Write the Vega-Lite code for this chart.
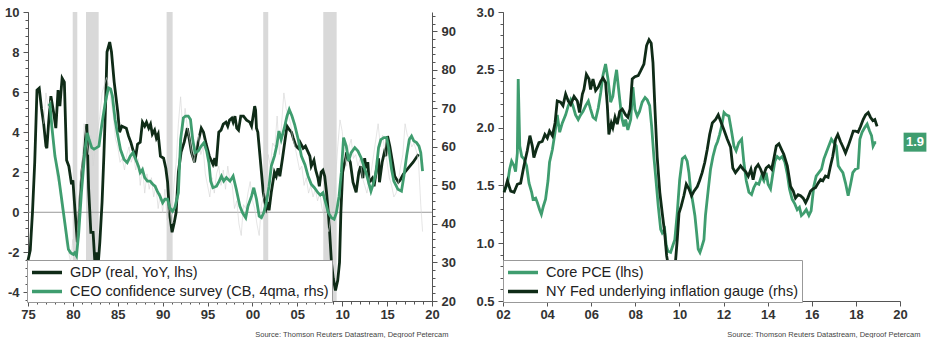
{
  "$schema": "https://vega.github.io/schema/vega-lite/v6.json",
  "background": "white",
  "padding": {"left": 4, "top": 6, "right": 0, "bottom": 0},
  "spacing": 71,
  "bounds": "flush",
  "resolve": {"scale": {"color": "independent"}, "legend": {"color": "independent"}},
  "config": {
    "font": "Liberation Sans",
    "view": {"stroke": null},
    "axis": {
      "grid": false,
      "domainColor": "#555",
      "tickColor": "#555",
      "labelColor": "#333",
      "labelFont": "Liberation Sans",
      "labelFontSize": 13,
      "labelFontWeight": "bold",
      "labelOverlap": false,
      "labelBound": false,
      "labelFlush": false,
      "titleFont": "Liberation Sans"
    },
    "legend": {
      "orient": "none",
      "title": null,
      "fillColor": "white",
      "strokeColor": "#999",
      "padding": 3,
      "rowPadding": 2,
      "symbolType": "M-1,0H3",
      "symbolSize": 225,
      "symbolStrokeWidth": 3.5,
      "labelFont": "Liberation Sans",
      "labelFontSize": 14.5,
      "labelColor": "#222",
      "labelOffset": 21,
      "labelLimit": 0
    }
  },
  "datasets": {
    "recessions": [
      {"start": 1979.98, "end": 1980.49},
      {"start": 1981.46, "end": 1982.87},
      {"start": 1990.44, "end": 1991.11},
      {"start": 2001.2, "end": 2001.76},
      {"start": 2007.89, "end": 2009.38}
    ],
    "zeroline": [{"zero": 0}],
    "gdp": [
      {"year": 1975.0, "value": -2.4}, {"year": 1975.25, "value": -1.9}, {"year": 1975.5, "value": 0.0}, {"year": 1975.75, "value": 2.5},
      {"year": 1976.0, "value": 6.1}, {"year": 1976.25, "value": 6.2}, {"year": 1976.5, "value": 5.2}, {"year": 1976.75, "value": 4.4},
      {"year": 1977.0, "value": 3.3}, {"year": 1977.1, "value": 3.2}, {"year": 1977.3, "value": 4.5}, {"year": 1977.55, "value": 5.8},
      {"year": 1977.85, "value": 5.0}, {"year": 1978.1, "value": 4.2}, {"year": 1978.35, "value": 6.1}, {"year": 1978.55, "value": 5.3},
      {"year": 1978.8, "value": 6.7}, {"year": 1979.05, "value": 6.5}, {"year": 1979.3, "value": 2.6}, {"year": 1979.55, "value": 2.3},
      {"year": 1979.85, "value": 1.4}, {"year": 1980.0, "value": 1.6}, {"year": 1980.25, "value": 0.0}, {"year": 1980.5, "value": -1.5},
      {"year": 1980.75, "value": 0.3}, {"year": 1981.0, "value": 2.0}, {"year": 1981.25, "value": 2.9}, {"year": 1981.55, "value": 4.4},
      {"year": 1981.75, "value": 1.2}, {"year": 1982.0, "value": -1.0}, {"year": 1982.25, "value": -1.0}, {"year": 1982.45, "value": -2.5},
      {"year": 1982.6, "value": -2.0}, {"year": 1982.8, "value": -2.7}, {"year": 1983.0, "value": -1.5}, {"year": 1983.25, "value": 0.5},
      {"year": 1983.45, "value": 2.8}, {"year": 1983.65, "value": 5.5}, {"year": 1983.8, "value": 8.0}, {"year": 1984.1, "value": 8.5},
      {"year": 1984.3, "value": 8.0}, {"year": 1984.6, "value": 6.5}, {"year": 1985.0, "value": 5.0}, {"year": 1985.2, "value": 4.0},
      {"year": 1985.45, "value": 4.3}, {"year": 1985.95, "value": 4.2}, {"year": 1986.2, "value": 3.8}, {"year": 1986.45, "value": 3.5},
      {"year": 1986.7, "value": 3.1}, {"year": 1987.0, "value": 2.8}, {"year": 1987.2, "value": 3.4}, {"year": 1987.5, "value": 3.5},
      {"year": 1987.75, "value": 4.5}, {"year": 1988.0, "value": 4.3}, {"year": 1988.2, "value": 4.5}, {"year": 1988.45, "value": 4.2},
      {"year": 1988.65, "value": 4.4}, {"year": 1988.85, "value": 3.9}, {"year": 1989.1, "value": 4.1}, {"year": 1989.3, "value": 3.7},
      {"year": 1989.5, "value": 3.9}, {"year": 1989.75, "value": 2.8}, {"year": 1990.1, "value": 2.7}, {"year": 1990.35, "value": 2.2},
      {"year": 1990.55, "value": 1.5}, {"year": 1990.75, "value": 0.0}, {"year": 1991.05, "value": -1.0}, {"year": 1991.3, "value": -0.5},
      {"year": 1991.5, "value": 0.0}, {"year": 1991.75, "value": 2.0}, {"year": 1992.05, "value": 3.0}, {"year": 1992.4, "value": 3.5},
      {"year": 1992.75, "value": 4.2}, {"year": 1992.95, "value": 3.7}, {"year": 1993.2, "value": 3.0}, {"year": 1993.55, "value": 2.5},
      {"year": 1993.95, "value": 3.5}, {"year": 1994.3, "value": 4.2}, {"year": 1994.55, "value": 4.0}, {"year": 1994.85, "value": 3.4},
      {"year": 1995.2, "value": 2.8}, {"year": 1995.6, "value": 2.4}, {"year": 1995.8, "value": 2.7}, {"year": 1995.95, "value": 2.3},
      {"year": 1996.25, "value": 4.0}, {"year": 1996.5, "value": 4.1}, {"year": 1996.75, "value": 4.4}, {"year": 1997.05, "value": 4.5},
      {"year": 1997.25, "value": 4.3}, {"year": 1997.45, "value": 4.6}, {"year": 1997.7, "value": 4.7}, {"year": 1997.85, "value": 4.5},
      {"year": 1998.05, "value": 4.8}, {"year": 1998.25, "value": 4.2}, {"year": 1998.45, "value": 4.1}, {"year": 1998.7, "value": 4.8},
      {"year": 1999.0, "value": 4.8}, {"year": 1999.35, "value": 4.6}, {"year": 1999.7, "value": 4.5}, {"year": 1999.9, "value": 4.3},
      {"year": 2000.25, "value": 5.3}, {"year": 2000.35, "value": 5.1}, {"year": 2000.45, "value": 4.2}, {"year": 2000.6, "value": 4.0},
      {"year": 2000.8, "value": 3.0}, {"year": 2001.0, "value": 2.0}, {"year": 2001.2, "value": 1.0}, {"year": 2001.4, "value": 0.5},
      {"year": 2001.55, "value": 0.2}, {"year": 2001.75, "value": 0.5}, {"year": 2001.85, "value": 0.1}, {"year": 2002.1, "value": 1.0},
      {"year": 2002.45, "value": 2.0}, {"year": 2002.65, "value": 1.8}, {"year": 2002.85, "value": 2.2}, {"year": 2003.05, "value": 1.8},
      {"year": 2003.35, "value": 2.7}, {"year": 2003.6, "value": 3.5}, {"year": 2003.85, "value": 4.3}, {"year": 2004.15, "value": 4.1},
      {"year": 2004.35, "value": 4.0}, {"year": 2004.55, "value": 3.7}, {"year": 2004.85, "value": 3.3}, {"year": 2005.1, "value": 3.2},
      {"year": 2005.3, "value": 3.5}, {"year": 2005.65, "value": 3.2}, {"year": 2005.9, "value": 3.3}, {"year": 2006.2, "value": 3.0},
      {"year": 2006.4, "value": 2.8}, {"year": 2006.55, "value": 2.3}, {"year": 2006.85, "value": 2.6}, {"year": 2007.05, "value": 2.1},
      {"year": 2007.3, "value": 1.7}, {"year": 2007.45, "value": 1.3}, {"year": 2007.65, "value": 2.0}, {"year": 2007.85, "value": 2.1},
      {"year": 2008.05, "value": 1.8}, {"year": 2008.25, "value": 1.0}, {"year": 2008.45, "value": 0.0}, {"year": 2008.6, "value": -1.0},
      {"year": 2008.8, "value": -2.5}, {"year": 2009.0, "value": -3.3}, {"year": 2009.25, "value": -3.9}, {"year": 2009.5, "value": -3.4},
      {"year": 2009.7, "value": -2.5}, {"year": 2009.85, "value": 0.0}, {"year": 2010.05, "value": 2.0}, {"year": 2010.5, "value": 3.0},
      {"year": 2010.7, "value": 2.7}, {"year": 2010.9, "value": 2.5}, {"year": 2011.2, "value": 1.5}, {"year": 2011.55, "value": 1.0},
      {"year": 2011.85, "value": 2.0}, {"year": 2012.05, "value": 2.3}, {"year": 2012.3, "value": 1.7}, {"year": 2012.5, "value": 2.7},
      {"year": 2012.65, "value": 2.2}, {"year": 2012.85, "value": 2.5}, {"year": 2013.0, "value": 1.5}, {"year": 2013.35, "value": 1.7},
      {"year": 2013.55, "value": 1.3}, {"year": 2013.8, "value": 2.1}, {"year": 2014.05, "value": 2.7}, {"year": 2014.15, "value": 1.5},
      {"year": 2014.45, "value": 2.5}, {"year": 2014.7, "value": 3.0}, {"year": 2014.85, "value": 2.8}, {"year": 2015.05, "value": 3.8},
      {"year": 2015.3, "value": 3.3}, {"year": 2015.6, "value": 2.5}, {"year": 2015.85, "value": 1.8}, {"year": 2016.25, "value": 1.5},
      {"year": 2016.45, "value": 1.6}, {"year": 2016.8, "value": 1.9}, {"year": 2017.35, "value": 2.2}, {"year": 2017.9, "value": 2.5},
      {"year": 2018.5, "value": 2.9}
    ],
    "ceo": [
      {"year": 1977.3, "value": 70.6}, {"year": 1977.45, "value": 71.0}, {"year": 1977.65, "value": 65.4}, {"year": 1978.0, "value": 57.6},
      {"year": 1978.4, "value": 52.4}, {"year": 1978.75, "value": 46.4}, {"year": 1979.1, "value": 40.3}, {"year": 1979.5, "value": 33.4},
      {"year": 1979.75, "value": 32.5}, {"year": 1980.05, "value": 32.1}, {"year": 1980.2, "value": 32.5}, {"year": 1980.4, "value": 31.7},
      {"year": 1980.65, "value": 37.7}, {"year": 1980.95, "value": 48.1}, {"year": 1981.35, "value": 59.3}, {"year": 1981.6, "value": 63.6},
      {"year": 1981.8, "value": 61.9}, {"year": 1982.1, "value": 59.8}, {"year": 1982.35, "value": 59.4}, {"year": 1982.65, "value": 59.8},
      {"year": 1982.9, "value": 60.2}, {"year": 1983.2, "value": 65.4}, {"year": 1983.6, "value": 71.4}, {"year": 1983.95, "value": 75.3},
      {"year": 1984.2, "value": 75.0}, {"year": 1984.4, "value": 73.2}, {"year": 1984.7, "value": 67.1}, {"year": 1984.95, "value": 63.6},
      {"year": 1985.3, "value": 59.3}, {"year": 1985.7, "value": 56.7}, {"year": 1986.05, "value": 55.9}, {"year": 1986.4, "value": 57.6},
      {"year": 1986.7, "value": 58.5}, {"year": 1987.0, "value": 56.7}, {"year": 1987.3, "value": 55.0}, {"year": 1987.5, "value": 53.3},
      {"year": 1987.75, "value": 54.1}, {"year": 1988.0, "value": 52.0}, {"year": 1988.3, "value": 51.1}, {"year": 1988.6, "value": 51.1},
      {"year": 1988.9, "value": 50.3}, {"year": 1989.15, "value": 49.8}, {"year": 1989.4, "value": 48.5}, {"year": 1989.7, "value": 47.2},
      {"year": 1990.0, "value": 45.5}, {"year": 1990.25, "value": 46.4}, {"year": 1990.55, "value": 46.4}, {"year": 1990.8, "value": 44.2},
      {"year": 1991.1, "value": 43.3}, {"year": 1991.35, "value": 44.2}, {"year": 1991.75, "value": 48.1}, {"year": 1992.0, "value": 61.9},
      {"year": 1992.3, "value": 67.5}, {"year": 1992.55, "value": 68.0}, {"year": 1992.85, "value": 68.0}, {"year": 1993.1, "value": 67.1},
      {"year": 1993.35, "value": 61.9}, {"year": 1993.6, "value": 58.5}, {"year": 1993.95, "value": 58.9}, {"year": 1994.3, "value": 60.2},
      {"year": 1994.6, "value": 61.1}, {"year": 1994.9, "value": 58.9}, {"year": 1995.15, "value": 55.9}, {"year": 1995.35, "value": 51.1},
      {"year": 1995.6, "value": 49.4}, {"year": 1996.0, "value": 49.8}, {"year": 1996.3, "value": 51.1}, {"year": 1996.55, "value": 52.4},
      {"year": 1996.8, "value": 51.1}, {"year": 1997.1, "value": 52.0}, {"year": 1997.5, "value": 51.1}, {"year": 1997.85, "value": 52.4},
      {"year": 1998.2, "value": 49.0}, {"year": 1998.6, "value": 44.6}, {"year": 1998.9, "value": 42.9}, {"year": 1999.25, "value": 41.6},
      {"year": 1999.5, "value": 44.6}, {"year": 1999.9, "value": 47.2}, {"year": 2000.15, "value": 49.4}, {"year": 2000.45, "value": 46.4},
      {"year": 2000.75, "value": 42.0}, {"year": 2001.0, "value": 41.6}, {"year": 2001.25, "value": 42.9}, {"year": 2001.55, "value": 45.5},
      {"year": 2001.85, "value": 49.8}, {"year": 2002.1, "value": 55.0}, {"year": 2002.45, "value": 57.6}, {"year": 2002.7, "value": 60.2},
      {"year": 2002.95, "value": 64.1}, {"year": 2003.2, "value": 61.9}, {"year": 2003.55, "value": 64.9}, {"year": 2003.85, "value": 68.0},
      {"year": 2004.1, "value": 69.7}, {"year": 2004.4, "value": 68.0}, {"year": 2004.7, "value": 65.8}, {"year": 2005.1, "value": 61.9},
      {"year": 2005.45, "value": 57.6}, {"year": 2005.85, "value": 55.4}, {"year": 2006.2, "value": 52.4}, {"year": 2006.55, "value": 50.3},
      {"year": 2006.9, "value": 49.4}, {"year": 2007.3, "value": 48.1}, {"year": 2007.55, "value": 47.5}, {"year": 2007.85, "value": 48.1},
      {"year": 2008.15, "value": 45.5}, {"year": 2008.45, "value": 42.9}, {"year": 2008.8, "value": 41.6}, {"year": 2009.1, "value": 41.2},
      {"year": 2009.35, "value": 42.9}, {"year": 2009.65, "value": 47.2}, {"year": 2009.9, "value": 53.3}, {"year": 2010.15, "value": 62.4},
      {"year": 2010.45, "value": 60.2}, {"year": 2010.7, "value": 56.3}, {"year": 2011.0, "value": 58.5}, {"year": 2011.4, "value": 59.8},
      {"year": 2011.75, "value": 58.9}, {"year": 2012.1, "value": 57.2}, {"year": 2012.4, "value": 55.0}, {"year": 2012.65, "value": 53.3},
      {"year": 2012.95, "value": 50.7}, {"year": 2013.2, "value": 48.5}, {"year": 2013.45, "value": 50.3}, {"year": 2013.75, "value": 53.3},
      {"year": 2014.05, "value": 59.8}, {"year": 2014.3, "value": 61.9}, {"year": 2014.65, "value": 62.4}, {"year": 2014.95, "value": 62.4},
      {"year": 2015.2, "value": 59.3}, {"year": 2015.5, "value": 54.1}, {"year": 2015.75, "value": 51.1}, {"year": 2016.2, "value": 49.0},
      {"year": 2016.6, "value": 48.5}, {"year": 2016.87, "value": 52.4}, {"year": 2017.17, "value": 57.6}, {"year": 2017.47, "value": 61.9},
      {"year": 2017.72, "value": 62.8}, {"year": 2017.98, "value": 61.5}, {"year": 2018.28, "value": 61.1}, {"year": 2018.55, "value": 60.2},
      {"year": 2018.75, "value": 58.5}, {"year": 2018.95, "value": 53.7}
    ],
    "ceoraw": [
      {"year": 1976.75, "value": 66}, {"year": 1977.0, "value": 74}, {"year": 1977.25, "value": 70}, {"year": 1977.5, "value": 72},
      {"year": 1977.75, "value": 62}, {"year": 1978.0, "value": 58}, {"year": 1978.25, "value": 52}, {"year": 1978.5, "value": 50},
      {"year": 1978.75, "value": 44}, {"year": 1979.0, "value": 42}, {"year": 1979.25, "value": 35}, {"year": 1979.5, "value": 33},
      {"year": 1979.75, "value": 30}, {"year": 1980.0, "value": 36}, {"year": 1980.25, "value": 26}, {"year": 1980.5, "value": 38},
      {"year": 1980.75, "value": 50}, {"year": 1981.0, "value": 55}, {"year": 1981.25, "value": 66}, {"year": 1981.5, "value": 62},
      {"year": 1981.75, "value": 58}, {"year": 1982.0, "value": 63}, {"year": 1982.25, "value": 55}, {"year": 1982.5, "value": 60},
      {"year": 1982.75, "value": 64}, {"year": 1983.0, "value": 68}, {"year": 1983.25, "value": 74}, {"year": 1983.5, "value": 76},
      {"year": 1983.75, "value": 78}, {"year": 1984.0, "value": 76}, {"year": 1984.25, "value": 72}, {"year": 1984.5, "value": 68},
      {"year": 1984.75, "value": 62}, {"year": 1985.0, "value": 60}, {"year": 1985.25, "value": 56}, {"year": 1985.5, "value": 57},
      {"year": 1985.75, "value": 54}, {"year": 1986.0, "value": 58}, {"year": 1986.25, "value": 60}, {"year": 1986.5, "value": 56},
      {"year": 1986.75, "value": 58}, {"year": 1987.0, "value": 54}, {"year": 1987.25, "value": 57}, {"year": 1987.5, "value": 50},
      {"year": 1987.75, "value": 55}, {"year": 1988.0, "value": 48}, {"year": 1988.25, "value": 53}, {"year": 1988.5, "value": 49},
      {"year": 1988.75, "value": 52}, {"year": 1989.0, "value": 47}, {"year": 1989.25, "value": 50}, {"year": 1989.5, "value": 44},
      {"year": 1989.75, "value": 48}, {"year": 1990.0, "value": 43}, {"year": 1990.25, "value": 49}, {"year": 1990.5, "value": 41},
      {"year": 1990.75, "value": 45}, {"year": 1991.0, "value": 40}, {"year": 1991.25, "value": 50}, {"year": 1991.5, "value": 56},
      {"year": 1991.75, "value": 66}, {"year": 1992.0, "value": 73}, {"year": 1992.25, "value": 64}, {"year": 1992.5, "value": 70},
      {"year": 1992.75, "value": 65}, {"year": 1993.0, "value": 62}, {"year": 1993.25, "value": 58}, {"year": 1993.5, "value": 56},
      {"year": 1993.75, "value": 61}, {"year": 1994.0, "value": 63}, {"year": 1994.25, "value": 58}, {"year": 1994.5, "value": 60},
      {"year": 1994.75, "value": 53}, {"year": 1995.0, "value": 50}, {"year": 1995.25, "value": 47}, {"year": 1995.5, "value": 52},
      {"year": 1995.75, "value": 48}, {"year": 1996.0, "value": 53}, {"year": 1996.25, "value": 55}, {"year": 1996.5, "value": 50},
      {"year": 1996.75, "value": 54}, {"year": 1997.0, "value": 49}, {"year": 1997.25, "value": 55}, {"year": 1997.5, "value": 51},
      {"year": 1997.75, "value": 50}, {"year": 1998.0, "value": 44}, {"year": 1998.25, "value": 46}, {"year": 1998.5, "value": 40},
      {"year": 1998.75, "value": 37}, {"year": 1999.0, "value": 45}, {"year": 1999.25, "value": 44}, {"year": 1999.5, "value": 48},
      {"year": 1999.75, "value": 51}, {"year": 2000.0, "value": 46}, {"year": 2000.25, "value": 44}, {"year": 2000.5, "value": 40},
      {"year": 2000.75, "value": 37}, {"year": 2001.0, "value": 45}, {"year": 2001.25, "value": 47}, {"year": 2001.5, "value": 52},
      {"year": 2001.75, "value": 58}, {"year": 2002.0, "value": 55}, {"year": 2002.25, "value": 61}, {"year": 2002.5, "value": 60},
      {"year": 2002.75, "value": 68}, {"year": 2003.0, "value": 58}, {"year": 2003.25, "value": 66}, {"year": 2003.5, "value": 74},
      {"year": 2003.75, "value": 70}, {"year": 2004.0, "value": 68}, {"year": 2004.25, "value": 66}, {"year": 2004.5, "value": 62},
      {"year": 2004.75, "value": 60}, {"year": 2005.0, "value": 57}, {"year": 2005.25, "value": 54}, {"year": 2005.5, "value": 55},
      {"year": 2005.75, "value": 50}, {"year": 2006.0, "value": 52}, {"year": 2006.25, "value": 48}, {"year": 2006.5, "value": 50},
      {"year": 2006.75, "value": 47}, {"year": 2007.0, "value": 49}, {"year": 2007.25, "value": 46}, {"year": 2007.5, "value": 48},
      {"year": 2007.75, "value": 44}, {"year": 2008.0, "value": 42}, {"year": 2008.25, "value": 40}, {"year": 2008.5, "value": 38},
      {"year": 2008.75, "value": 42}, {"year": 2009.0, "value": 45}, {"year": 2009.25, "value": 52}, {"year": 2009.5, "value": 60},
      {"year": 2009.75, "value": 67}, {"year": 2010.0, "value": 64}, {"year": 2010.25, "value": 58}, {"year": 2010.5, "value": 55},
      {"year": 2010.75, "value": 60}, {"year": 2011.0, "value": 62}, {"year": 2011.25, "value": 57}, {"year": 2011.5, "value": 58},
      {"year": 2011.75, "value": 55}, {"year": 2012.0, "value": 57}, {"year": 2012.25, "value": 52}, {"year": 2012.5, "value": 50},
      {"year": 2012.75, "value": 48}, {"year": 2013.0, "value": 51}, {"year": 2013.25, "value": 54}, {"year": 2013.5, "value": 58},
      {"year": 2013.75, "value": 62}, {"year": 2014.0, "value": 66}, {"year": 2014.25, "value": 60}, {"year": 2014.5, "value": 63},
      {"year": 2014.75, "value": 59}, {"year": 2015.0, "value": 56}, {"year": 2015.25, "value": 52}, {"year": 2015.5, "value": 50},
      {"year": 2015.75, "value": 47}, {"year": 2016.0, "value": 48}, {"year": 2016.25, "value": 51}, {"year": 2016.5, "value": 55},
      {"year": 2016.75, "value": 58}, {"year": 2017.0, "value": 66}, {"year": 2017.25, "value": 63}, {"year": 2017.5, "value": 62},
      {"year": 2017.75, "value": 60}, {"year": 2018.0, "value": 61}, {"year": 2018.25, "value": 59}, {"year": 2018.5, "value": 56},
      {"year": 2018.75, "value": 45}, {"year": 2018.95, "value": 38}
    ],
    "nyfed": [
      {"year": 2002.05, "value": 1.44}, {"year": 2002.2, "value": 1.54}, {"year": 2002.35, "value": 1.45}, {"year": 2002.5, "value": 1.44},
      {"year": 2002.65, "value": 1.51}, {"year": 2002.8, "value": 1.52}, {"year": 2002.95, "value": 1.67}, {"year": 2003.1, "value": 1.80},
      {"year": 2003.22, "value": 1.93}, {"year": 2003.33, "value": 1.84}, {"year": 2003.4, "value": 1.74}, {"year": 2003.51, "value": 1.81},
      {"year": 2003.63, "value": 1.87}, {"year": 2003.78, "value": 1.88}, {"year": 2003.9, "value": 1.94}, {"year": 2004.01, "value": 1.91},
      {"year": 2004.11, "value": 1.97}, {"year": 2004.24, "value": 1.93}, {"year": 2004.36, "value": 2.04}, {"year": 2004.46, "value": 2.23},
      {"year": 2004.61, "value": 2.22}, {"year": 2004.72, "value": 2.19}, {"year": 2004.84, "value": 2.29}, {"year": 2004.96, "value": 2.23},
      {"year": 2005.07, "value": 2.20}, {"year": 2005.22, "value": 2.27}, {"year": 2005.37, "value": 2.23}, {"year": 2005.47, "value": 2.13},
      {"year": 2005.6, "value": 2.29}, {"year": 2005.67, "value": 2.33}, {"year": 2005.78, "value": 2.46}, {"year": 2005.9, "value": 2.42},
      {"year": 2005.97, "value": 2.33}, {"year": 2006.08, "value": 2.42}, {"year": 2006.2, "value": 2.32}, {"year": 2006.32, "value": 2.35},
      {"year": 2006.43, "value": 2.40}, {"year": 2006.53, "value": 2.43}, {"year": 2006.65, "value": 2.39}, {"year": 2006.73, "value": 2.19},
      {"year": 2006.8, "value": 1.94}, {"year": 2006.91, "value": 2.04}, {"year": 2006.98, "value": 2.00}, {"year": 2007.08, "value": 2.09},
      {"year": 2007.18, "value": 2.03}, {"year": 2007.29, "value": 2.14}, {"year": 2007.41, "value": 2.16}, {"year": 2007.56, "value": 2.11},
      {"year": 2007.66, "value": 2.09}, {"year": 2007.76, "value": 2.16}, {"year": 2007.86, "value": 2.42}, {"year": 2007.98, "value": 2.44},
      {"year": 2008.13, "value": 2.45}, {"year": 2008.24, "value": 2.49}, {"year": 2008.39, "value": 2.55}, {"year": 2008.51, "value": 2.71},
      {"year": 2008.62, "value": 2.76}, {"year": 2008.72, "value": 2.73}, {"year": 2008.8, "value": 2.56}, {"year": 2008.89, "value": 2.16},
      {"year": 2008.99, "value": 1.75}, {"year": 2009.11, "value": 1.44}, {"year": 2009.22, "value": 1.26}, {"year": 2009.33, "value": 1.09},
      {"year": 2009.42, "value": 0.89}, {"year": 2009.52, "value": 0.78}, {"year": 2009.65, "value": 0.72}, {"year": 2009.82, "value": 0.84},
      {"year": 2009.9, "value": 1.03}, {"year": 2009.98, "value": 1.26}, {"year": 2010.08, "value": 1.32}, {"year": 2010.2, "value": 1.41},
      {"year": 2010.31, "value": 1.51}, {"year": 2010.43, "value": 1.47}, {"year": 2010.55, "value": 1.41}, {"year": 2010.66, "value": 1.45},
      {"year": 2010.81, "value": 1.49}, {"year": 2010.91, "value": 1.54}, {"year": 2011.03, "value": 1.61}, {"year": 2011.15, "value": 1.70},
      {"year": 2011.26, "value": 1.81}, {"year": 2011.37, "value": 1.94}, {"year": 2011.49, "value": 2.04}, {"year": 2011.64, "value": 2.07},
      {"year": 2011.76, "value": 2.11}, {"year": 2011.86, "value": 2.06}, {"year": 2012.02, "value": 1.98}, {"year": 2012.17, "value": 1.90},
      {"year": 2012.32, "value": 1.83}, {"year": 2012.42, "value": 1.65}, {"year": 2012.54, "value": 1.61}, {"year": 2012.66, "value": 1.64},
      {"year": 2012.77, "value": 1.67}, {"year": 2012.89, "value": 1.64}, {"year": 2013.0, "value": 1.62}, {"year": 2013.12, "value": 1.58},
      {"year": 2013.24, "value": 1.64}, {"year": 2013.34, "value": 1.55}, {"year": 2013.45, "value": 1.65}, {"year": 2013.57, "value": 1.68},
      {"year": 2013.68, "value": 1.64}, {"year": 2013.8, "value": 1.58}, {"year": 2013.93, "value": 1.65}, {"year": 2014.05, "value": 1.67},
      {"year": 2014.18, "value": 1.64}, {"year": 2014.28, "value": 1.73}, {"year": 2014.39, "value": 1.84}, {"year": 2014.51, "value": 1.86},
      {"year": 2014.63, "value": 1.81}, {"year": 2014.73, "value": 1.77}, {"year": 2014.89, "value": 1.67}, {"year": 2015.04, "value": 1.49},
      {"year": 2015.16, "value": 1.45}, {"year": 2015.26, "value": 1.39}, {"year": 2015.38, "value": 1.42}, {"year": 2015.49, "value": 1.41},
      {"year": 2015.61, "value": 1.39}, {"year": 2015.72, "value": 1.35}, {"year": 2015.82, "value": 1.39}, {"year": 2015.94, "value": 1.45},
      {"year": 2016.05, "value": 1.47}, {"year": 2016.17, "value": 1.48}, {"year": 2016.29, "value": 1.52}, {"year": 2016.4, "value": 1.55},
      {"year": 2016.5, "value": 1.54}, {"year": 2016.62, "value": 1.58}, {"year": 2016.74, "value": 1.57}, {"year": 2016.85, "value": 1.67},
      {"year": 2016.95, "value": 1.75}, {"year": 2017.08, "value": 1.90}, {"year": 2017.18, "value": 1.94}, {"year": 2017.3, "value": 1.88},
      {"year": 2017.42, "value": 1.83}, {"year": 2017.53, "value": 1.78}, {"year": 2017.65, "value": 1.84}, {"year": 2017.76, "value": 1.90},
      {"year": 2017.88, "value": 1.97}, {"year": 2017.98, "value": 1.97}, {"year": 2018.1, "value": 1.96}, {"year": 2018.21, "value": 2.01},
      {"year": 2018.33, "value": 2.07}, {"year": 2018.44, "value": 2.11}, {"year": 2018.56, "value": 2.13}, {"year": 2018.66, "value": 2.09},
      {"year": 2018.77, "value": 2.06}, {"year": 2018.86, "value": 2.07}, {"year": 2018.96, "value": 2.01}
    ],
    "pce": [
      {"year": 2002.05, "value": 1.45}, {"year": 2002.2, "value": 1.51}, {"year": 2002.3, "value": 1.64}, {"year": 2002.39, "value": 1.71},
      {"year": 2002.5, "value": 1.67}, {"year": 2002.57, "value": 1.62}, {"year": 2002.65, "value": 1.78}, {"year": 2002.69, "value": 2.42},
      {"year": 2002.76, "value": 1.84}, {"year": 2002.85, "value": 1.75}, {"year": 2002.95, "value": 1.73}, {"year": 2003.07, "value": 1.67},
      {"year": 2003.18, "value": 1.52}, {"year": 2003.3, "value": 1.44}, {"year": 2003.36, "value": 1.38}, {"year": 2003.48, "value": 1.39},
      {"year": 2003.56, "value": 1.35}, {"year": 2003.66, "value": 1.29}, {"year": 2003.74, "value": 1.25}, {"year": 2003.83, "value": 1.32},
      {"year": 2003.93, "value": 1.38}, {"year": 2004.04, "value": 1.54}, {"year": 2004.11, "value": 1.70}, {"year": 2004.24, "value": 1.81},
      {"year": 2004.36, "value": 1.96}, {"year": 2004.46, "value": 2.11}, {"year": 2004.57, "value": 1.96}, {"year": 2004.69, "value": 2.04},
      {"year": 2004.84, "value": 2.11}, {"year": 2004.96, "value": 2.19}, {"year": 2005.07, "value": 2.24}, {"year": 2005.17, "value": 2.19},
      {"year": 2005.29, "value": 2.11}, {"year": 2005.41, "value": 2.07}, {"year": 2005.52, "value": 2.11}, {"year": 2005.63, "value": 2.14},
      {"year": 2005.75, "value": 2.19}, {"year": 2005.87, "value": 2.23}, {"year": 2005.97, "value": 2.16}, {"year": 2006.08, "value": 2.09},
      {"year": 2006.2, "value": 2.07}, {"year": 2006.32, "value": 2.17}, {"year": 2006.43, "value": 2.30}, {"year": 2006.53, "value": 2.45},
      {"year": 2006.65, "value": 2.55}, {"year": 2006.76, "value": 2.42}, {"year": 2006.88, "value": 2.22}, {"year": 2006.98, "value": 2.27},
      {"year": 2007.08, "value": 2.42}, {"year": 2007.15, "value": 2.50}, {"year": 2007.26, "value": 2.30}, {"year": 2007.38, "value": 2.09},
      {"year": 2007.48, "value": 2.01}, {"year": 2007.56, "value": 2.07}, {"year": 2007.66, "value": 1.98}, {"year": 2007.79, "value": 2.07},
      {"year": 2007.89, "value": 2.35}, {"year": 2007.98, "value": 2.16}, {"year": 2008.09, "value": 2.10}, {"year": 2008.19, "value": 2.14},
      {"year": 2008.31, "value": 2.22}, {"year": 2008.44, "value": 2.26}, {"year": 2008.54, "value": 2.24}, {"year": 2008.65, "value": 2.19},
      {"year": 2008.74, "value": 2.01}, {"year": 2008.84, "value": 1.75}, {"year": 2008.92, "value": 1.58}, {"year": 2009.04, "value": 1.32},
      {"year": 2009.15, "value": 1.12}, {"year": 2009.22, "value": 1.09}, {"year": 2009.33, "value": 1.12}, {"year": 2009.4, "value": 0.98},
      {"year": 2009.48, "value": 0.93}, {"year": 2009.6, "value": 0.92}, {"year": 2009.7, "value": 0.98}, {"year": 2009.79, "value": 1.03},
      {"year": 2009.9, "value": 1.26}, {"year": 2010.01, "value": 1.55}, {"year": 2010.13, "value": 1.73}, {"year": 2010.25, "value": 1.75},
      {"year": 2010.35, "value": 1.71}, {"year": 2010.43, "value": 1.61}, {"year": 2010.5, "value": 1.47}, {"year": 2010.61, "value": 1.35},
      {"year": 2010.7, "value": 1.24}, {"year": 2010.78, "value": 1.09}, {"year": 2010.85, "value": 0.95}, {"year": 2010.93, "value": 0.92},
      {"year": 2011.0, "value": 0.96}, {"year": 2011.11, "value": 1.03}, {"year": 2011.18, "value": 1.24}, {"year": 2011.31, "value": 1.47},
      {"year": 2011.41, "value": 1.64}, {"year": 2011.52, "value": 1.75}, {"year": 2011.64, "value": 1.84}, {"year": 2011.73, "value": 1.88},
      {"year": 2011.82, "value": 1.94}, {"year": 2011.91, "value": 2.01}, {"year": 2012.02, "value": 2.13}, {"year": 2012.12, "value": 2.11},
      {"year": 2012.24, "value": 2.10}, {"year": 2012.36, "value": 1.97}, {"year": 2012.47, "value": 1.84}, {"year": 2012.57, "value": 1.80},
      {"year": 2012.69, "value": 1.87}, {"year": 2012.82, "value": 1.90}, {"year": 2012.92, "value": 1.70}, {"year": 2013.03, "value": 1.54},
      {"year": 2013.15, "value": 1.44}, {"year": 2013.27, "value": 1.42}, {"year": 2013.37, "value": 1.48}, {"year": 2013.48, "value": 1.52},
      {"year": 2013.6, "value": 1.51}, {"year": 2013.72, "value": 1.58}, {"year": 2013.83, "value": 1.54}, {"year": 2013.93, "value": 1.61},
      {"year": 2014.02, "value": 1.51}, {"year": 2014.13, "value": 1.47}, {"year": 2014.24, "value": 1.61}, {"year": 2014.33, "value": 1.71},
      {"year": 2014.43, "value": 1.75}, {"year": 2014.54, "value": 1.73}, {"year": 2014.66, "value": 1.75}, {"year": 2014.78, "value": 1.70},
      {"year": 2014.89, "value": 1.60}, {"year": 2014.99, "value": 1.47}, {"year": 2015.11, "value": 1.38}, {"year": 2015.23, "value": 1.34},
      {"year": 2015.34, "value": 1.29}, {"year": 2015.44, "value": 1.31}, {"year": 2015.53, "value": 1.24}, {"year": 2015.64, "value": 1.26},
      {"year": 2015.75, "value": 1.29}, {"year": 2015.87, "value": 1.24}, {"year": 2015.97, "value": 1.28}, {"year": 2016.09, "value": 1.49},
      {"year": 2016.2, "value": 1.58}, {"year": 2016.32, "value": 1.61}, {"year": 2016.44, "value": 1.64}, {"year": 2016.55, "value": 1.73},
      {"year": 2016.65, "value": 1.78}, {"year": 2016.77, "value": 1.84}, {"year": 2016.89, "value": 1.90}, {"year": 2017.0, "value": 1.87},
      {"year": 2017.11, "value": 1.84}, {"year": 2017.2, "value": 1.67}, {"year": 2017.3, "value": 1.64}, {"year": 2017.41, "value": 1.61},
      {"year": 2017.53, "value": 1.52}, {"year": 2017.65, "value": 1.41}, {"year": 2017.76, "value": 1.51}, {"year": 2017.86, "value": 1.61},
      {"year": 2017.98, "value": 1.64}, {"year": 2018.1, "value": 1.65}, {"year": 2018.18, "value": 1.90}, {"year": 2018.28, "value": 1.96},
      {"year": 2018.4, "value": 2.00}, {"year": 2018.51, "value": 2.03}, {"year": 2018.62, "value": 1.97}, {"year": 2018.71, "value": 1.93},
      {"year": 2018.78, "value": 1.84}, {"year": 2018.86, "value": 1.87}, {"year": 2018.92, "value": 1.87}
    ],
    "lastvalue": [{"year": 2020.68, "value": 1.9, "label": "1.9"}]
  },
  "hconcat": [
    {
      "width": 404,
      "height": 289,
      "resolve": {"scale": {"x": "independent", "y": "independent"}},
      "layer": [
        {
          "data": {"name": "recessions"},
          "mark": {"type": "rect", "color": "#d9d9d9"},
          "encoding": {
            "x": {
              "field": "start", "type": "quantitative",
              "scale": {"domain": [1975, 2020], "nice": false, "zero": false},
              "axis": {
                "orient": "bottom",
                "values": [1975, 1980, 1985, 1990, 1995, 2000, 2005, 2010, 2015, 2020],
                "labelExpr": "slice('0' + (datum.value % 100), -2)",
                "tickSize": 5,
                "labelPadding": 2,
                "title": "Source: Thomson Reuters Datastream, Degroof Petercam",
                "titleFontSize": 7.5,
                "titleFontWeight": "normal",
                "titleColor": "#444",
                "titleAlign": "right",
                "titleBaseline": "middle",
                "titleX": 420,
                "titleY": 33
              }
            },
            "x2": {"field": "end"}
          }
        },
        {
          "data": {"name": "zeroline"},
          "mark": {"type": "rule", "color": "#999", "strokeWidth": 1},
          "encoding": {
            "y": {
              "field": "zero", "type": "quantitative",
              "scale": {"domain": [-4.43, 10], "nice": false, "zero": false},
              "axis": {
                "orient": "left",
                "title": null,
                "labels": false,
                "domain": false,
                "tickSize": 3,
                "values": [-4.4,-4,-3.6,-3.2,-2.8,-2.4,-2,-1.6,-1.2,-0.8,-0.4,0,0.4,0.8,1.2,1.6,2,2.4,2.8,3.2,3.6,4,4.4,4.8,5.2,5.6,6,6.4,6.8,7.2,7.6,8,8.4,8.8,9.2,9.6,10]
              }
            }
          }
        },
        {
          "data": {"name": "gdp"},
          "mark": {"type": "line", "strokeWidth": 2.8},
          "encoding": {
            "x": {
              "field": "year", "type": "quantitative",
              "scale": {"domain": [1975, 2020], "nice": false, "zero": false},
              "axis": {
                "orient": "bottom",
                "title": null,
                "labels": false,
                "domain": false,
                "tickSize": 3,
                "values": [1975,1976,1977,1978,1979,1980,1981,1982,1983,1984,1985,1986,1987,1988,1989,1990,1991,1992,1993,1994,1995,1996,1997,1998,1999,2000,2001,2002,2003,2004,2005,2006,2007,2008,2009,2010,2011,2012,2013,2014,2015,2016,2017,2018,2019,2020]
              }
            },
            "y": {
              "field": "value", "type": "quantitative",
              "scale": {"domain": [-4.43, 10], "nice": false, "zero": false},
              "axis": {
                "orient": "left",
                "title": null,
                "values": [-4, -2, 0, 2, 4, 6, 8, 10],
                "labelExpr": "toString(datum.value)",
                "tickSize": 5,
                "labelPadding": 4
              }
            },
            "color": {
              "datum": "GDP (real, YoY, lhs)",
              "type": "nominal",
              "scale": {
                "domain": ["GDP (real, YoY, lhs)", "CEO confidence survey (CB, 4qma, rhs)"],
                "range": ["#0f2b17", "#3f9d6f"]
              },
              "legend": {
                "legendX": -1,
                "legendY": 248,
                "labelExpr": "datum.label + '\u00a0\u00a0\u00a0\u00a0\u00a0\u00a0\u00a0\u00a0\u00a0'"
              }
            }
          }
        },
        {
          "data": {"name": "ceoraw"},
          "mark": {"type": "line", "strokeWidth": 0.6, "color": "#d4d4d4"},
          "encoding": {
            "x": {"field": "year", "type": "quantitative", "scale": {"domain": [1975, 2020], "nice": false, "zero": false}, "axis": null},
            "y": {
              "field": "value", "type": "quantitative",
              "scale": {"domain": [20, 95], "nice": false, "zero": false},
              "axis": {
                "orient": "right",
                "title": null,
                "labels": false,
                "domain": false,
                "tickSize": 3,
                "values": [20,22,24,26,28,30,32,34,36,38,40,42,44,46,48,50,52,54,56,58,60,62,64,66,68,70,72,74,76,78,80,82,84,86,88,90,92,94]
              }
            }
          }
        },
        {
          "data": {"name": "ceo"},
          "mark": {"type": "line", "strokeWidth": 2.8},
          "encoding": {
            "x": {"field": "year", "type": "quantitative", "scale": {"domain": [1975, 2020], "nice": false, "zero": false}, "axis": null},
            "y": {
              "field": "value", "type": "quantitative",
              "scale": {"domain": [20, 95], "nice": false, "zero": false},
              "axis": {
                "orient": "right",
                "title": null,
                "values": [20, 30, 40, 50, 60, 70, 80, 90],
                "tickSize": 5,
                "labelPadding": 4
              }
            },
            "color": {"datum": "CEO confidence survey (CB, 4qma, rhs)", "type": "nominal"}
          }
        }
      ]
    },
    {
      "width": 397,
      "height": 289,
      "resolve": {"scale": {"y": "independent"}},
      "layer": [
        {
          "data": {"name": "pce"},
          "mark": {"type": "line", "strokeWidth": 2.8},
          "encoding": {
            "x": {
              "field": "year", "type": "quantitative",
              "scale": {"domain": [2002, 2020], "nice": false, "zero": false},
              "axis": {
                "values": [2002,2002.25,2002.5,2002.75,2003,2003.25,2003.5,2003.75,2004,2004.25,2004.5,2004.75,2005,2005.25,2005.5,2005.75,2006,2006.25,2006.5,2006.75,2007,2007.25,2007.5,2007.75,2008,2008.25,2008.5,2008.75,2009,2009.25,2009.5,2009.75,2010,2010.25,2010.5,2010.75,2011,2011.25,2011.5,2011.75,2012,2012.25,2012.5,2012.75,2013,2013.25,2013.5,2013.75,2014,2014.25,2014.5,2014.75,2015,2015.25,2015.5,2015.75,2016,2016.25,2016.5,2016.75,2017,2017.25,2017.5,2017.75,2018,2018.25,2018.5,2018.75,2019,2019.25,2019.5,2019.75,2020],
                "labelExpr": "datum.value % 2 === 0 ? slice('0' + (datum.value % 100), -2) : ''",
                "tickSize": {"condition": {"test": "datum.value % 2 === 0", "value": 5}, "value": 3},
                "labelPadding": 2,
                "title": "Source: Thomson Reuters Datastream, Degroof Petercam",
                "titleFontSize": 7.5,
                "titleFontWeight": "normal",
                "titleColor": "#444",
                "titleAlign": "right",
                "titleBaseline": "middle",
                "titleX": 417,
                "titleY": 33
              }
            },
            "y": {
              "field": "value", "type": "quantitative",
              "scale": {"domain": [0.5, 3.0], "nice": false, "zero": false},
              "axis": {
                "orient": "left",
                "title": null,
                "values": [0.5, 1.0, 1.5, 2.0, 2.5, 3.0],
                "format": ".1f",
                "tickSize": 5,
                "labelPadding": 4
              }
            },
            "color": {
              "datum": "Core PCE (lhs)",
              "type": "nominal",
              "scale": {
                "domain": ["Core PCE (lhs)", "NY Fed underlying inflation gauge (rhs)"],
                "range": ["#3f9d6f", "#0f2b17"]
              },
              "legend": {
                "legendX": 0,
                "legendY": 248,
                "labelExpr": "datum.label + '\u00a0\u00a0\u00a0\u00a0\u00a0'"
              }
            }
          }
        },
        {
          "data": {"name": "nyfed"},
          "mark": {"type": "line", "strokeWidth": 2.8},
          "encoding": {
            "x": {"field": "year", "type": "quantitative"},
            "y": {
              "field": "value", "type": "quantitative",
              "scale": {"domain": [0.5, 3.0], "nice": false, "zero": false},
              "axis": {
                "orient": "left",
                "title": null,
                "labels": false,
                "domain": false,
                "tickSize": 3,
                "values": [0.5,0.6,0.7,0.8,0.9,1.0,1.1,1.2,1.3,1.4,1.5,1.6,1.7,1.8,1.9,2.0,2.1,2.2,2.3,2.4,2.5,2.6,2.7,2.8,2.9,3.0]
              }
            },
            "color": {"datum": "NY Fed underlying inflation gauge (rhs)", "type": "nominal"}
          }
        },
        {
          "data": {"name": "lastvalue"},
          "mark": {"type": "point", "shape": "M-1.2,-1H1.2V1H-1.2Z", "filled": true, "size": 361, "color": "#3f9d6f", "opacity": 1, "yOffset": 3},
          "encoding": {
            "x": {"field": "year", "type": "quantitative"},
            "y": {"field": "value", "type": "quantitative", "scale": {"domain": [0.5, 3.0], "nice": false, "zero": false}, "axis": null}
          }
        },
        {
          "data": {"name": "lastvalue"},
          "mark": {"type": "text", "color": "white", "fontWeight": "bold", "fontSize": 13, "yOffset": 3, "font": "Liberation Sans"},
          "encoding": {
            "x": {"field": "year", "type": "quantitative"},
            "y": {"field": "value", "type": "quantitative", "scale": {"domain": [0.5, 3.0], "nice": false, "zero": false}, "axis": null},
            "text": {"field": "label"}
          }
        }
      ]
    }
  ]
}
